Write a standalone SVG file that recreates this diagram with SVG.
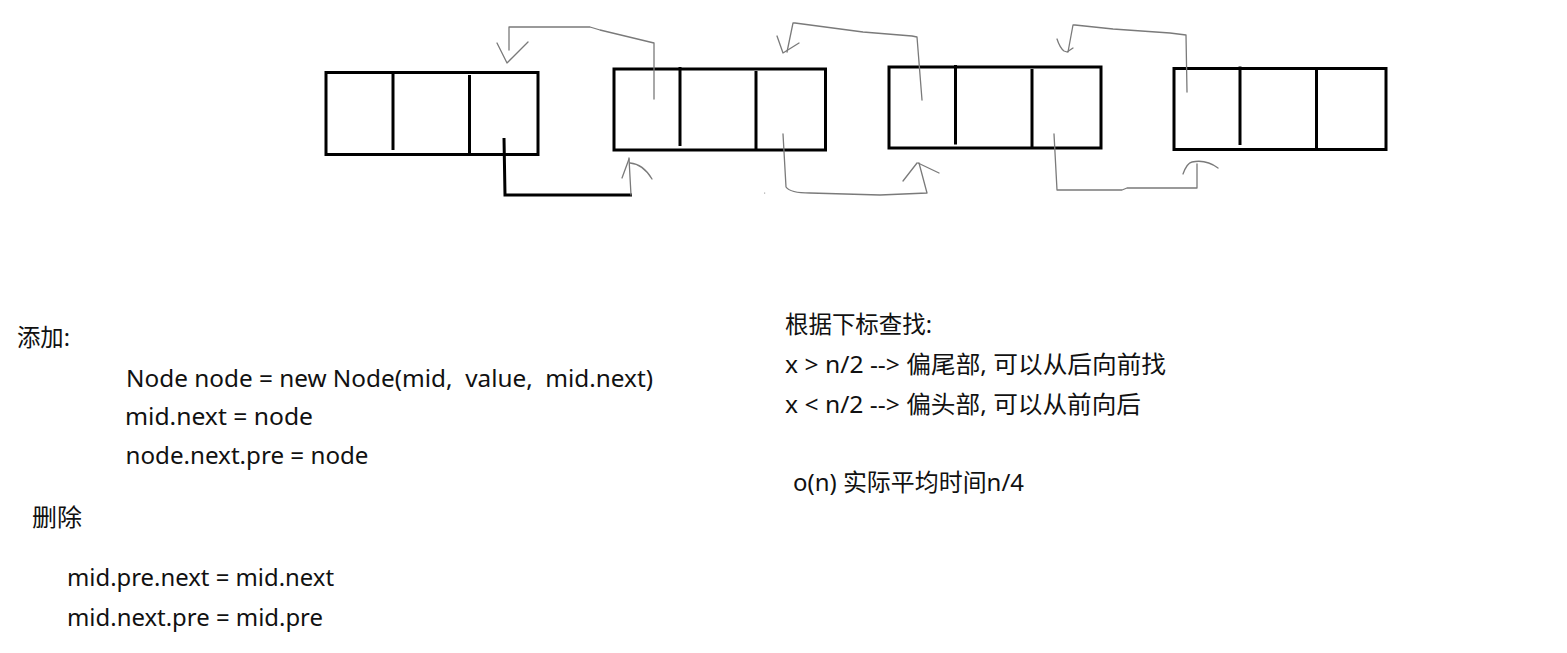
<svg xmlns="http://www.w3.org/2000/svg" width="1567" height="653" viewBox="0 0 1567 653">
<style>
.box{fill:none;stroke:#000;stroke-width:3}
.div{stroke:#000;stroke-width:3;fill:none}
.thin{fill:none;stroke:#7a7a7a;stroke-width:1.3;stroke-linejoin:round;stroke-linecap:round}
.thick{fill:none;stroke:#000;stroke-width:3}
.t{font-family:"Noto Sans","Noto Sans CJK SC",sans-serif;font-size:24px;fill:#111}
</style>
<rect width="1567" height="653" fill="#fff"/>
<g id="node1">
<rect class="box" x="326" y="72.5" width="212" height="82"/>
<line class="div" x1="393" y1="71" x2="393" y2="150"/>
<line class="div" x1="469.5" y1="75" x2="469.5" y2="154"/>
</g>
<g id="node2">
<rect class="box" x="614" y="69" width="211.5" height="81"/>
<line class="div" x1="680" y1="67" x2="680" y2="146"/>
<line class="div" x1="756" y1="71" x2="756" y2="150"/>
</g>
<g id="node3">
<rect class="box" x="889" y="67" width="212" height="81"/>
<line class="div" x1="955.5" y1="65" x2="955.5" y2="144.5"/>
<line class="div" x1="1032" y1="69" x2="1032" y2="147.5"/>
</g>
<g id="node4">
<rect class="box" x="1174" y="68.5" width="212" height="81"/>
<line class="div" x1="1240" y1="66.5" x2="1240" y2="145"/>
<line class="div" x1="1316.5" y1="70" x2="1316.5" y2="149"/>
</g>
<g id="connectors">
<path class="thick" d="M504,138 L505,195 L632,195"/>
<path class="thin" d="M631,195 L630,177 L629,158"/>
<path class="thin" d="M622,178 L629,159 M630,163 Q643,164 652,179"/>
<path class="thin" d="M654,99 L654,43 L600,30 L590,27 L509,27 L509,50"/>
<path class="thin" d="M497,43 L507,63 L528,42"/>
<path class="thin" d="M783,134 L786,187 Q790,193 810,193 L880,195 L927,193 L919,163"/>
<path class="thin" d="M903,181 L917,163 M918,163 L939,173"/>
<path class="thin" d="M922,100 L917,37 L912,36 L863,32 L795,23 L793,23 L787,52"/>
<path class="thin" d="M777,36 L783,53 L799,43"/>
<path class="thin" d="M1054,134 L1057,190 L1122,190 L1127,188 L1197,188 L1197,164"/>
<path class="thin" d="M1183,174 Q1187,163 1192,162 Q1206,159 1218,168"/>
<path class="thin" d="M1187,92 L1186,35 L1170,33 L1113,29 L1075,25 L1073,25 L1068,52"/>
<path class="thin" d="M1057,39 Q1060,48 1064,51 L1067,52 L1073,48"/>
<rect x="764" y="192.5" width="1.2" height="1.2" fill="#aaa"/>
</g>
<g id="texts">
<text class="t" x="17" y="346" textLength="53" lengthAdjust="spacingAndGlyphs">添加:</text>
<text class="t" x="126" y="387" textLength="527" lengthAdjust="spacingAndGlyphs" xml:space="preserve">Node node = new Node(mid,  value,  mid.next)</text>
<text class="t" x="125" y="425" textLength="188" lengthAdjust="spacingAndGlyphs">mid.next = node</text>
<text class="t" x="125.5" y="464" textLength="243" lengthAdjust="spacingAndGlyphs">node.next.pre = node</text>
<text class="t" x="32" y="526" textLength="50" lengthAdjust="spacingAndGlyphs">删除</text>
<text class="t" x="67" y="586" textLength="267" lengthAdjust="spacingAndGlyphs">mid.pre.next = mid.next</text>
<text class="t" x="67" y="626" textLength="256" lengthAdjust="spacingAndGlyphs">mid.next.pre = mid.pre</text>
<text class="t" x="785" y="333" textLength="147" lengthAdjust="spacingAndGlyphs">根据下标查找:</text>
<text class="t" x="785" y="373" textLength="381" lengthAdjust="spacingAndGlyphs">x &gt; n/2 --&gt; 偏尾部, 可以从后向前找</text>
<text class="t" x="785" y="413" textLength="356" lengthAdjust="spacingAndGlyphs">x &lt; n/2 --&gt; 偏头部, 可以从前向后</text>
<text class="t" x="793" y="491" textLength="231" lengthAdjust="spacingAndGlyphs">o(n) 实际平均时间n/4</text>
</g>
</svg>
